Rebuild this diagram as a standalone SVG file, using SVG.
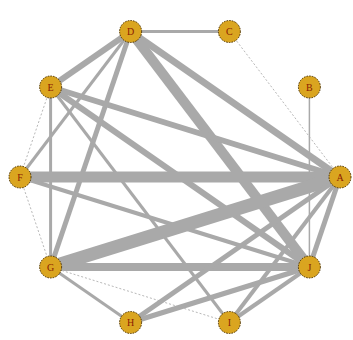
<svg xmlns="http://www.w3.org/2000/svg" width="353" height="340" viewBox="0 0 353 340">
<style>
.e{stroke:#a9a9a9;stroke-linecap:butt;fill:none}
.t{stroke:#b8b8b8;stroke-dasharray:2 2}
.n circle{fill:#daa520;stroke:#4a3000;stroke-width:1;stroke-dasharray:1.5 1.2}
.n text{font-family:"Liberation Serif",serif;font-size:10px;fill:#8b1a00;text-anchor:middle;dominant-baseline:central}
</style>
<rect width="353" height="340" fill="#ffffff"/>
<g id="edges">
<line class="e" x1="130.6" y1="31.5" x2="229.4" y2="31.5" stroke-width="3"/>
<line class="e t" x1="229.4" y1="31.5" x2="340" y2="177" stroke-width="1"/>
<line class="e" x1="309.4" y1="87" x2="309.4" y2="267" stroke-width="1.5"/>
<line class="e" x1="130.6" y1="31.5" x2="50.6" y2="87" stroke-width="6"/>
<line class="e" x1="130.6" y1="31.5" x2="20" y2="177" stroke-width="3"/>
<line class="e" x1="130.6" y1="31.5" x2="50.6" y2="267" stroke-width="5"/>
<line class="e" x1="130.6" y1="31.5" x2="340" y2="177" stroke-width="7"/>
<line class="e" x1="130.6" y1="31.5" x2="309.4" y2="267" stroke-width="10"/>
<line class="e t" x1="50.6" y1="87" x2="20" y2="177" stroke-width="1"/>
<line class="e" x1="50.6" y1="87" x2="50.6" y2="267" stroke-width="3"/>
<line class="e" x1="50.6" y1="87" x2="340" y2="177" stroke-width="6"/>
<line class="e" x1="50.6" y1="87" x2="309.4" y2="267" stroke-width="6"/>
<line class="e" x1="50.6" y1="87" x2="229.4" y2="322.5" stroke-width="3"/>
<line class="e t" x1="20" y1="177" x2="50.6" y2="267" stroke-width="1"/>
<line class="e" x1="20" y1="177" x2="340" y2="177" stroke-width="11"/>
<line class="e" x1="20" y1="177" x2="309.4" y2="267" stroke-width="4"/>
<line class="e" x1="50.6" y1="267" x2="340" y2="177" stroke-width="13"/>
<line class="e" x1="50.6" y1="267" x2="309.4" y2="267" stroke-width="8"/>
<line class="e" x1="50.6" y1="267" x2="130.6" y2="322.5" stroke-width="3"/>
<line class="e t" x1="50.6" y1="267" x2="229.4" y2="322.5" stroke-width="1"/>
<line class="e" x1="130.6" y1="322.5" x2="340" y2="177" stroke-width="5"/>
<line class="e" x1="130.6" y1="322.5" x2="309.4" y2="267" stroke-width="5"/>
<line class="e" x1="229.4" y1="322.5" x2="340" y2="177" stroke-width="4"/>
<line class="e" x1="229.4" y1="322.5" x2="309.4" y2="267" stroke-width="4"/>
<line class="e" x1="309.4" y1="267" x2="340" y2="177" stroke-width="5"/>
</g>
<g id="node-A" class="n"><circle cx="340" cy="177" r="11"/><text x="340" y="177">A</text></g>
<g id="node-B" class="n"><circle cx="309.4" cy="87" r="11"/><text x="309.4" y="87">B</text></g>
<g id="node-C" class="n"><circle cx="229.4" cy="31.5" r="11"/><text x="229.4" y="31.5">C</text></g>
<g id="node-D" class="n"><circle cx="130.6" cy="31.5" r="11"/><text x="130.6" y="31.5">D</text></g>
<g id="node-E" class="n"><circle cx="50.6" cy="87" r="11"/><text x="50.6" y="87">E</text></g>
<g id="node-F" class="n"><circle cx="20" cy="177" r="11"/><text x="20" y="177">F</text></g>
<g id="node-G" class="n"><circle cx="50.6" cy="267" r="11"/><text x="50.6" y="267">G</text></g>
<g id="node-H" class="n"><circle cx="130.6" cy="322.5" r="11"/><text x="130.6" y="322.5">H</text></g>
<g id="node-I" class="n"><circle cx="229.4" cy="322.5" r="11"/><text x="229.4" y="322.5">I</text></g>
<g id="node-J" class="n"><circle cx="309.4" cy="267" r="11"/><text x="309.4" y="267">J</text></g>
</svg>
